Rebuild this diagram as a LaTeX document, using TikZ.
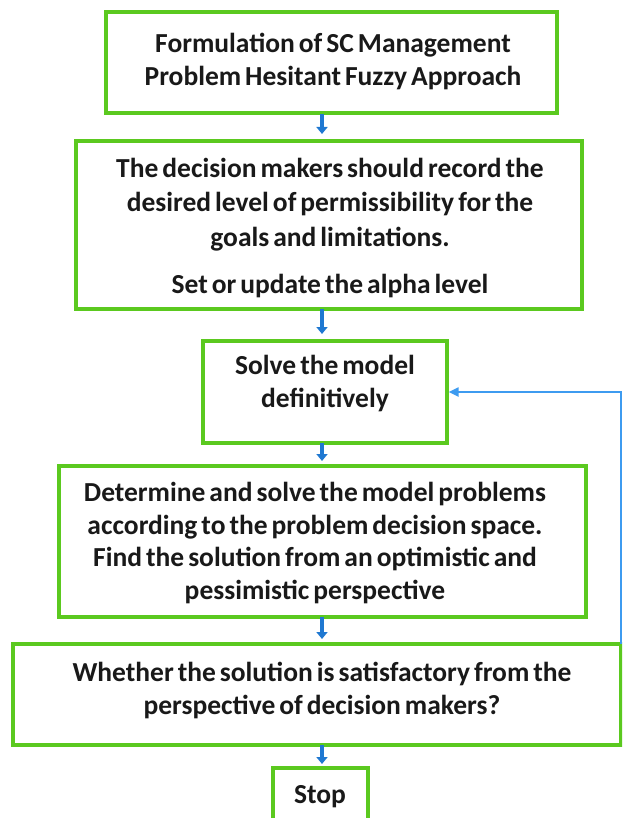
\documentclass[tikz,border=0pt]{standalone}
\usepackage{fontspec}
\setmainfont{Carlito}
\usetikzlibrary{arrows.meta}
\definecolor{boxgreen}{HTML}{5BC91F}
\definecolor{arrblue}{HTML}{1F78D1}
\definecolor{loopblue}{HTML}{3D9BF0}
\newcommand{\boxfontA}{\fontsize{27.5}{33}\selectfont\bfseries\spaceskip=4pt plus 1pt minus 1pt\relax}
\newcommand{\boxfontB}{\fontsize{27.5}{34.5}\selectfont\bfseries\spaceskip=4pt plus 1pt minus 1pt\relax}
\newcommand{\boxfontC}{\fontsize{27.5}{32.5}\selectfont\bfseries\spaceskip=4pt plus 1pt minus 1pt\relax}
\tikzset{
  stepbox/.style={draw=boxgreen, line width=3.2pt, fill=white, inner sep=0pt},
  txt/.style={font=\boxfontA, align=center, inner sep=0pt, text=black!90},
  down/.style={draw=arrblue, line width=3.5pt, -{Triangle[width=11pt,length=7pt]}},
  loop/.style={draw=loopblue, line width=2pt, -{Triangle[width=9pt,length=10pt]}}
}
\begin{document}
\begin{tikzpicture}[x=1pt,y=-1pt]
\useasboundingbox (0,0) rectangle (622,818);
\clip (0,0) rectangle (622,818);
% boxes
\node[stepbox, minimum width=451pt, minimum height=101pt] (b1) at (331.5,62.5) {};
\node[stepbox, minimum width=506pt, minimum height=168pt] (b2) at (329,225) {};
\node[stepbox, minimum width=244pt, minimum height=102pt] (b3) at (325,392) {};
\node[stepbox, minimum width=527pt, minimum height=151pt] (b4) at (322.5,541.5) {};
\node[stepbox, minimum width=608pt, minimum height=101pt] (b5) at (317,694.5) {};
\node[stepbox, minimum width=95pt, minimum height=80pt] (b6) at (320.5,808) {};
% texts
\node[txt] (t1) at (333,61) {Formulation of SC Management\\Problem Hesitant Fuzzy Approach};
\node[txt, font=\boxfontB] (t2) at (330,228) {The decision makers should record the\\desired level of permissibility for the\\goals and limitations.\\[13pt]Set or update the alpha level};
\node[txt] (t3) at (325,383.5) {Solve the model\\definitively};
\node[txt, font=\boxfontC] (t4) at (315,543) {Determine and solve the model problems\\according to the problem decision space.\\Find the solution from an optimistic and\\pessimistic perspective};
\node[txt] (t5) at (322,690.5) {Whether the solution is satisfactory from the\\perspective of decision makers?};
\node[txt] (t6) at (320,797) {Stop};
% short arrows
\coordinate (a1) at (322,114);
\coordinate (a2) at (322,309);
\coordinate (a3) at (322,443);
\coordinate (a4) at (322,617);
\coordinate (a5) at (322,745);
\draw[down] (a1) -- (a1 |- {0,134});
\draw[down] (a2) -- (a2 |- {0,334});
\draw[down] (a3) -- (a3 |- {0,461});
\draw[down] (a4) -- (a4 |- {0,639});
\draw[down] (a5) -- (a5 |- {0,764});
% feedback loop
\coordinate (lc) at (621,644);
\draw[loop] (lc) -- (lc |- b3.east) -- (b3.east);
\end{tikzpicture}
\end{document}
